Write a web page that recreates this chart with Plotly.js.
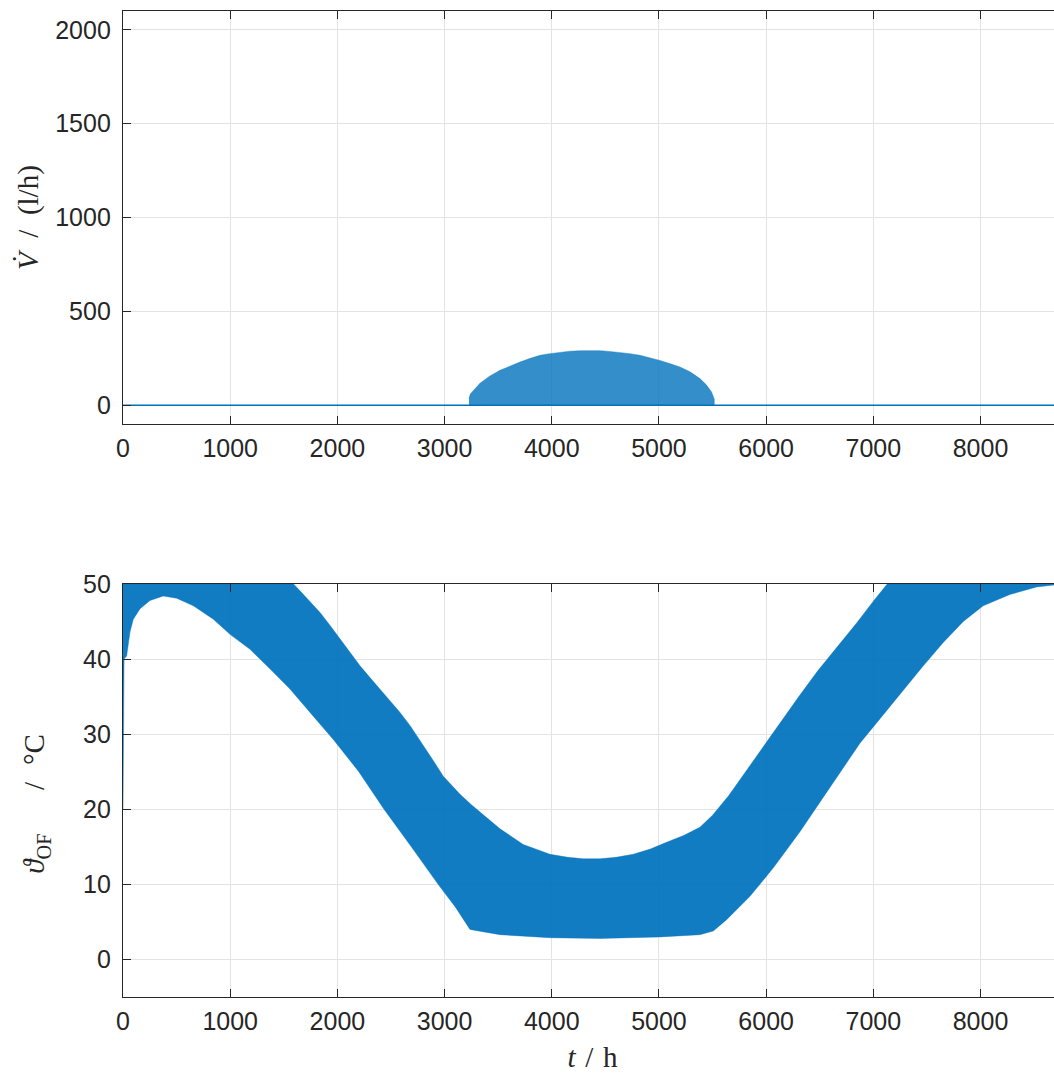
<!DOCTYPE html>
<html>
<head>
<meta charset="utf-8">
<script src="https://cdn.plot.ly/plotly-3.0.1.min.js"></script>
<style>
html,body{margin:0;padding:0;background:#fff;overflow:hidden;width:1054px;height:1073px;}
#chart{width:1075px;height:1073px;}
</style>
</head>
<body>
<div id="chart"></div>
<script>
// ---- Data ----
// Top panel: volume flow (l/h)
const baseT = [0, 8760];
const baseV = [0, 0];
const flowT = [3228, 3240, 3330, 3420, 3517, 3610, 3703, 3800, 3890, 3980, 4077, 4170, 4263, 4350, 4450, 4540, 4636, 4730, 4823, 4915, 5009, 5100, 5196, 5290, 5382, 5440, 5491, 5516];
const flowMax = [37, 60, 117, 155, 186, 210, 230, 250, 266, 275, 282, 288, 291, 292, 291, 287, 282, 275, 266, 254, 239, 222, 204, 178, 142, 110, 71, 32];

// Bottom panel: temperature (°C), daily band: upper and lower envelopes
const tempUpperT = [0, 1590, 1651, 1740, 1838, 1930, 2024, 2120, 2211, 2300, 2397, 2490, 2584, 2680, 2780, 2880, 2988, 3070, 3144, 3250, 3361, 3517, 3734, 3983, 4150, 4294, 4450, 4600, 4760, 4920, 5071, 5230, 5382, 5500, 5650, 5818, 5970, 6129, 6300, 6480, 6670, 6850, 7000, 7130, 8760];
const tempUpper = [50, 50, 49.1, 47.7, 46.2, 44.5, 42.7, 40.9, 39.1, 37.6, 36, 34.5, 32.9, 31.1, 29.0, 26.8, 24.4, 23.1, 22.0, 20.6, 19.3, 17.4, 15.3, 14, 13.6, 13.4, 13.4, 13.6, 14, 14.7, 15.6, 16.5, 17.6, 19.2, 21.8, 25.2, 28.3, 31.4, 34.9, 38.4, 41.7, 44.9, 47.7, 50, 50];
const tempLowerT = [0, 10, 34, 65, 96, 159, 252, 376, 501, 656, 843, 998, 1185, 1371, 1558, 1775, 1962, 2200, 2435, 2700, 2940, 3100, 3237, 3517, 3983, 4450, 5009, 5382, 5507, 5631, 5849, 6067, 6315, 6455, 6650, 6875, 7093, 7279, 7466, 7652, 7839, 8025, 8274, 8523, 8760];
const tempLower = [20, 40, 40.4, 43.6, 45.3, 46.7, 47.8, 48.4, 48.1, 47.1, 45.3, 43.3, 41.3, 38.7, 36, 32.4, 29.3, 25, 20, 14.8, 10, 7, 4, 3.3, 2.9, 2.8, 3.0, 3.3, 3.8, 5.3, 8.4, 12.2, 17, 20, 24, 28.8, 32.6, 35.9, 39.1, 42.2, 45, 47.1, 48.6, 49.6, 50];

const xTicks = [0, 1000, 2000, 3000, 4000, 5000, 6000, 7000, 8000];
const yTicksTop = [0, 500, 1000, 1500, 2000];
const yTicksBottom = [0, 10, 20, 30, 40, 50];

// ---- Build traces ----
const blue = '#0072BD';
const flowBandX = flowT.concat(flowT.slice().reverse());
const flowBandY = flowMax.concat(flowT.map(() => 0));
const tempBandX = tempUpperT.concat(tempLowerT.slice().reverse());
const tempBandY = tempUpper.concat(tempLower.slice().reverse());

const traces = [
  {x: flowBandX, y: flowBandY, xaxis: 'x', yaxis: 'y', type: 'scatter', mode: 'lines',
   fill: 'toself', fillcolor: 'rgba(0,114,189,0.8)', line: {color: 'rgba(0,114,189,0.6)', width: 0.6}, hoverinfo: 'skip'},
  {x: baseT, y: baseV, xaxis: 'x', yaxis: 'y', type: 'scatter', mode: 'lines',
   line: {color: blue, width: 1.6}},
  {x: tempBandX, y: tempBandY, xaxis: 'x2', yaxis: 'y2', type: 'scatter', mode: 'lines',
   fill: 'toself', fillcolor: 'rgba(0,114,189,0.93)', line: {color: 'rgba(0,114,189,0.7)', width: 0.6}, hoverinfo: 'skip'}
];

const tickFont = {family: 'Liberation Sans, Arial, sans-serif', size: 25, color: '#262626'};
const titleFont = {family: 'Liberation Serif, Times New Roman, serif', size: 29, color: '#262626'};

function xAxis(anchor, title) {
  const a = {
    anchor: anchor, range: [0, 8760], tickmode: 'array', tickvals: xTicks,
    ticktext: xTicks.map(String),
    ticks: 'inside', ticklen: 8, tickwidth: 1, tickcolor: '#262626',
    showline: true, linecolor: '#262626', linewidth: 1.2, mirror: 'ticks',
    showgrid: true, gridcolor: '#e3e3e3', gridwidth: 1, zeroline: false,
    tickfont: tickFont, ticklabelstandoff: 2
  };
  if (title) a.title = {text: title, font: titleFont, standoff: 13};
  return a;
}
function yAxis(anchor, range, ticks, domain, title, standoff) {
  return {
    anchor: anchor, range: range, domain: domain, tickmode: 'array', tickvals: ticks,
    ticktext: ticks.map(String),
    ticks: 'inside', ticklen: 8, tickwidth: 1, tickcolor: '#262626',
    showline: true, linecolor: '#262626', linewidth: 1.2, mirror: 'ticks',
    showgrid: true, gridcolor: '#e3e3e3', gridwidth: 1, zeroline: false,
    tickfont: tickFont, ticklabelstandoff: 6,
    title: {text: title, font: titleFont, standoff: standoff}
  };
}

const layout = {
  width: 1075, height: 1073,
  margin: {l: 123, r: 13, t: 11, b: 76},
  paper_bgcolor: '#ffffff', plot_bgcolor: '#ffffff',
  showlegend: false,
  xaxis: xAxis('y', null),
  yaxis: yAxis('x', [-100, 2100], yTicksTop, [0.5811, 1], '<i>V̇</i>\u2002/\u2002(l/h)', 8),
  xaxis2: xAxis('y2', '<i>t</i>\u2004/\u2004h'),
  yaxis2: yAxis('x2', [-5, 50], yTicksBottom, [0, 0.4189], '<i>ϑ</i><sub>OF</sub>\u2003\u2002/\u2002\u200a°C\u2009\u2800', 29)
};

Plotly.newPlot('chart', traces, layout, {staticPlot: true, displayModeBar: false});
</script>
</body>
</html>
